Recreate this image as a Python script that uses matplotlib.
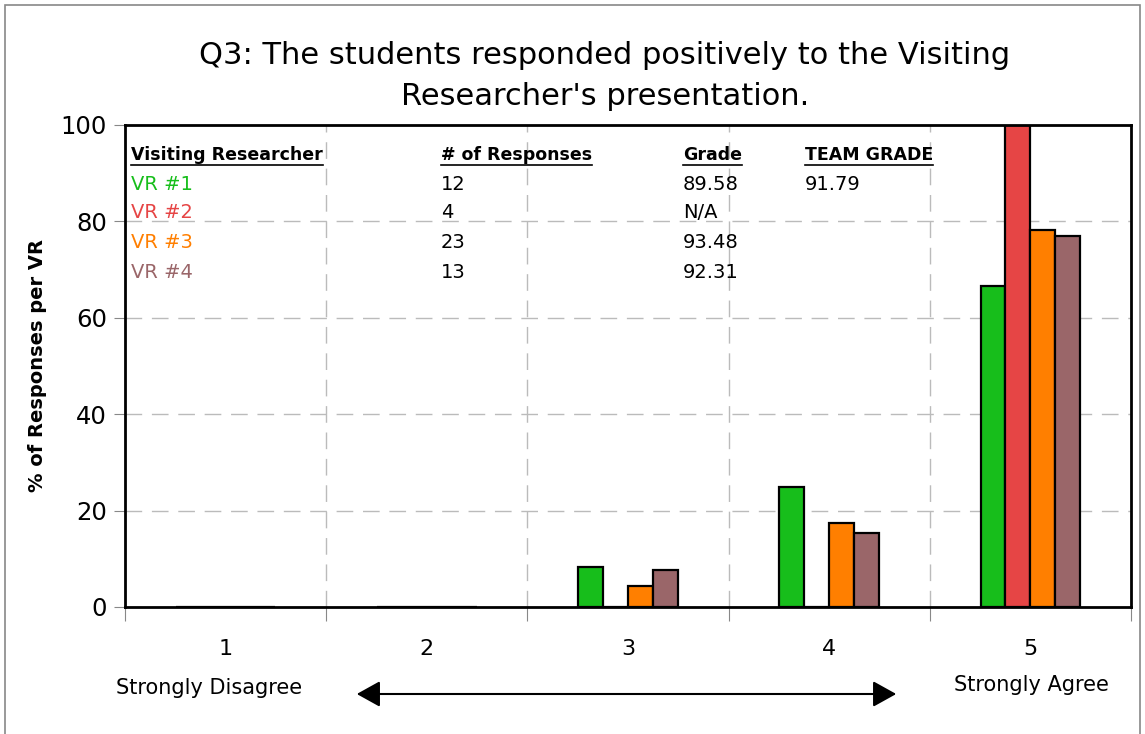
import matplotlib.pyplot as plt
import numpy as np
from matplotlib.patches import Rectangle, FancyArrowPatch
from matplotlib.lines import Line2D

# Survey data: percent of responses per visiting researcher
categories = [1, 2, 3, 4, 5]
cat_labels = ['1', '2', '3', '4', '5']
vr_names = ['VR #1', 'VR #2', 'VR #3', 'VR #4']
vr1 = [0, 0, 8.33, 25.0, 66.67]
vr2 = [0, 0, 0, 0, 100.0]
vr3 = [0, 0, 4.35, 17.39, 78.26]
vr4 = [0, 0, 7.69, 15.38, 76.92]
n_responses = ['12', '4', '23', '13']
grades = ['89.58', 'N/A', '93.48', '92.31']
team_grade = '91.79'

colors = ['#17be1b', '#e64545', '#ff7f00', '#9a6669']

W, H = 1145, 734
fig = plt.figure(figsize=(W / 100, H / 100), dpi=100)
plt.rcParams['font.family'] = 'DejaVu Sans'

# outer frame of the chart area
fig.patches.append(Rectangle((5 / W, -0.05), (1140 - 5) / W, 1.05 - 5 / H,
                             transform=fig.transFigure, fill=False,
                             edgecolor='#888888', linewidth=1.2))

ax = fig.add_axes([125 / W, (H - 607) / H, (1131 - 125) / W, (607 - 125) / H])

x = np.array(categories, dtype=float)
w = 0.124
series = [vr1, vr2, vr3, vr4]
for i, (vals, c) in enumerate(zip(series, colors)):
    ax.bar(x + (i - 1.5) * w, vals, width=w, color=c, edgecolor='black',
           linewidth=1.6, zorder=3)

ax.set_xlim(0.5, 5.5)
ax.set_ylim(0, 100)

ax.set_xticks(np.arange(0.5, 6.0, 1.0))
ax.set_xticklabels([])
ax.set_xticks(x, minor=True)
ax.set_xticklabels(cat_labels, minor=True, fontsize=16)
ax.tick_params(axis='x', which='major', length=10, color='#888888', direction='out')
ax.tick_params(axis='x', which='minor', length=0, pad=23)
ax.set_yticks(np.arange(0, 101, 20))
ax.tick_params(axis='y', length=8, color='#888888', labelsize=17.5, pad=5)

ax.grid(True, which='major', linestyle=(0, (12, 7)), color='#bbbbbb', linewidth=1.0, zorder=0)
for s in ax.spines.values():
    s.set_linewidth(2.0)
    s.set_color('black')
    s.set_zorder(4)

ax.set_ylabel('% of Responses per VR', fontsize=14, fontweight='bold', labelpad=10)

fig.text(605 / W, 1 - 76 / H, "Q3: The students responded positively to the Visiting\nResearcher's presentation.",
         ha='center', va='center', fontsize=22, linespacing=1.5)

# summary table inside the axes
hfs = 12.5
fs = 14
col_x = [131, 441, 683, 805]
row_y = [155, 184, 213, 242, 273]
headers = ['Visiting Researcher', '# of Responses', 'Grade', 'TEAM GRADE']
header_texts = []
for cx, h in zip(col_x, headers):
    header_texts.append(fig.text(cx / W, 1 - row_y[0] / H, h, fontsize=hfs,
                                 fontweight='bold', va='center', ha='left'))
for r in range(4):
    yy = 1 - row_y[r + 1] / H
    fig.text(col_x[0] / W, yy, vr_names[r], color=colors[r], fontsize=fs, va='center')
    fig.text(col_x[1] / W, yy, n_responses[r], fontsize=fs, va='center')
    fig.text(col_x[2] / W, yy, grades[r], fontsize=fs, va='center')
fig.text(col_x[3] / W, 1 - row_y[1] / H, team_grade, fontsize=fs, va='center')

# underline headers
fig.canvas.draw()
renderer = fig.canvas.get_renderer()
for t in header_texts:
    bb = t.get_window_extent(renderer)
    yline = bb.y0 - 1
    fig.add_artist(Line2D([bb.x0 / W, bb.x1 / W], [yline / H, yline / H],
                          transform=fig.transFigure, color='black', linewidth=1.2))

fig.text(209 / W, 1 - 688 / H, 'Strongly Disagree', ha='center', va='center', fontsize=15)
fig.text(1031 / W, 1 - 685 / H, 'Strongly Agree', ha='center', va='center', fontsize=15)
fig.add_artist(FancyArrowPatch(
    (354 / W, 1 - 694 / H), (899 / W, 1 - 694 / H), transform=fig.transFigure,
    arrowstyle='<|-|>,head_length=9,head_width=5', mutation_scale=1.6,
    color='black', linewidth=1.5))

fig.savefig('out.png', dpi=100)
